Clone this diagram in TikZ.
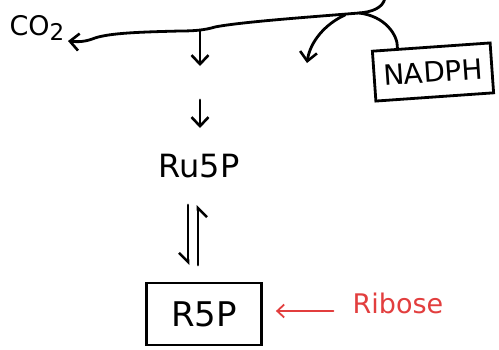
\documentclass[tikz,border=0pt]{standalone}
\usepackage{fontspec}
\setmainfont{DejaVu Sans}
\usetikzlibrary{arrows.meta,calc}
\definecolor{handred}{RGB}{226,62,62}
\begin{document}
\begin{tikzpicture}[x=1pt,y=-1pt,
  ink/.style={line width=2.8pt, line cap=round, line join=round},
  tip/.style={-{Straight Barb[length=9pt,width=17pt,line width=2.6pt]}},
  harpR/.style={-{Straight Barb[right,length=9pt,width=18pt,line width=2.6pt]}},
  lbl/.style={font=\fontsize{#1}{#1}\selectfont, inner sep=2pt},
  box/.style={draw, line width=2.8pt, inner sep=0pt}
]
\useasboundingbox (0,0) rectangle (499,349);
% nodes
\node[lbl=27] (co2) at (37,28) {CO\raisebox{-0.35ex}{\fontsize{23}{23}\selectfont 2}};
\node[lbl=28, box, rotate=4, minimum width=118pt, minimum height=50pt] (nadph) at (433,72) {NADPH};
\node[lbl=32] (ru5p) at (199,166) {Ru5P};
\node[lbl=34, box, minimum width=115pt, minimum height=62pt] (r5p) at (204,314) {R5P};
\node[lbl=27, text=handred] (ribose) at (398,303) {Ribose};
% coordinates
\coordinate (top) at (385,-2);
\coordinate (jn) at (359,13);
\coordinate (j2) at (345,15);
\coordinate (j1) at (200,30);
\coordinate (b1) at (200,66);
\coordinate (b2) at (307,63);
\coordinate (c2tip) at (68,41);
\coordinate (a0) at (200,100);
\coordinate (a1) at (200,128);
\coordinate (hl0) at (188,205);
\coordinate (hl1) at (188,265);
\coordinate (hr0) at (198,265);
\coordinate (hr1) at (198,205);
\coordinate (nadtop) at ($(nadph.north west)!0.22!(nadph.north east)$);
\coordinate (rs) at ([yshift=-8pt]ribose.west);
% main line
\draw[ink,tip] (top) .. controls (383,8) and (372,12) .. (jn)
  .. controls (310,17) and (240,22) .. (215,27)
  .. controls (205,30) and (195,31) .. (180,31)
  .. controls (140,32) and (110,33) .. (95,38)
  .. controls (85,42) and (78,42) .. (c2tip);
% branches
\draw[ink,tip] (j1) -- (b1);
\draw[ink,tip] (j2) .. controls (325,24) and (310,42) .. (b2);
\draw[ink] (jn) .. controls (385,16) and (398,35) .. (nadtop);
% arrow to Ru5P
\draw[ink,tip] (a0) -- (a1);
% equilibrium
\draw[ink,harpR] (hl0) -- (hl1);
\draw[ink,harpR] (hr0) -- (hr1);
% red arrow
\draw[line width=1.8pt, handred, line cap=round, -{Straight Barb[length=7pt,width=13pt,line width=1.8pt]}, shorten >=13pt, shorten <=17pt] (rs) -- (rs -| r5p.east);
\end{tikzpicture}
\end{document}
